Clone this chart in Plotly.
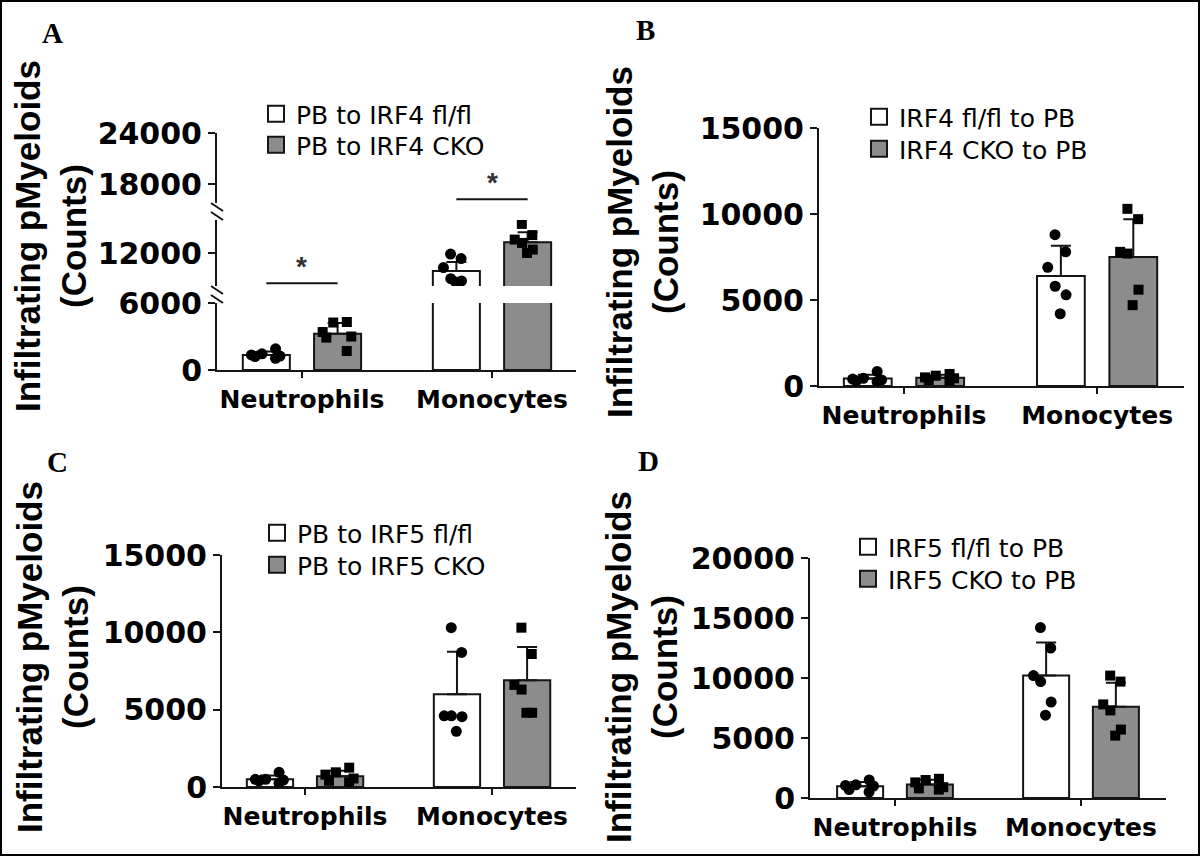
import plotly.graph_objects as go

W, H = 1200, 856

categories = ["Neutrophils", "Monocytes"]

# ---------------- Panel A (broken y axis) ----------------
a_groups = ["PB to IRF4 fl/fl", "PB to IRF4 CKO"]
a_wt_mean = [1350, 10400]
a_wt_sd = [300, 800]
a_ko_mean = [3250, 12950]
a_ko_sd = [950, 900]
a_wt_neutrophils = [1050, 1200, 1250, 1350, 1450, 1900]
a_wt_monocytes = [11500, 11900, 10700, 9700, 9500, 9400]
a_ko_neutrophils = [4300, 4250, 3400, 3000, 2900, 1700]
a_ko_monocytes = [14600, 13600, 13200, 12900, 12300, 12000]
a_sig_y = [9300, 16200]
a_sig_text = ["*", "*"]
a_ticks_low = [0, 6000]
a_ticks_mid = [12000]
a_ticks_up = [18000, 24000]

# ---------------- Panel B ----------------
b_groups = ["IRF4 fl/fl to PB", "IRF4 CKO to PB"]
b_wt_mean = [430, 6400]
b_wt_sd = [230, 1750]
b_ko_mean = [480, 7500]
b_ko_sd = [170, 2200]
b_wt_neutrophils = [250, 300, 350, 400, 450, 850]
b_wt_monocytes = [8800, 7800, 6900, 5800, 5300, 4200]
b_ko_neutrophils = [300, 350, 450, 500, 600, 700]
b_ko_monocytes = [10300, 9700, 7700, 7800, 5600, 4700]
b_ticks = [0, 5000, 10000, 15000]

# ---------------- Panel C ----------------
c_groups = ["PB to IRF5 fl/fl", "PB to IRF5 CKO"]
c_wt_mean = [500, 6000]
c_wt_sd = [250, 2750]
c_ko_mean = [700, 6900]
c_ko_sd = [350, 2150]
c_wt_neutrophils = [250, 450, 500, 500, 400, 950]
c_wt_monocytes = [10300, 8700, 4600, 4600, 4550, 3600]
c_ko_neutrophils = [1250, 950, 800, 550, 400, 300]
c_ko_monocytes = [10300, 8600, 6600, 6300, 4800, 4800]
c_ticks = [0, 5000, 10000, 15000]

# ---------------- Panel D ----------------
d_groups = ["IRF5 fl/fl to PB", "IRF5 CKO to PB"]
d_wt_mean = [980, 10200]
d_wt_sd = [350, 2750]
d_ko_mean = [1130, 7600]
d_ko_sd = [400, 2000]
d_wt_neutrophils = [500, 1100, 1000, 1050, 1500, 700]
d_wt_monocytes = [14200, 12500, 10200, 9700, 8000, 6900]
d_ko_neutrophils = [1500, 1300, 1600, 800, 700, 900]
d_ko_monocytes = [10200, 9700, 7800, 7300, 5700, 5200]
d_ticks = [0, 5000, 10000, 15000, 20000]

y_title = "Infiltrating pMyeloids<br>(Counts)"

# ---------------- styling ----------------
INK = "#151515"
GRAY = "#8c8c8c"
BARGAP, GROUPGAP = 0.25, 0.34
tick_font = dict(family="DejaVu Sans", size=30, color="black", weight="bold")
cat_font = dict(family="DejaVu Sans", size=25, color="black", weight="bold")
leg_font = dict(family="DejaVu Sans", size=25, color="black")
title_font = dict(family="Liberation Sans", size=35, color="black", weight="bold")
label_font = dict(family="Liberation Serif", size=29, color="black", weight="bold")


def xdom(p0, p1):
    return [p0 / W, p1 / W]


def ydom(top, bottom):
    return [1 - bottom / H, 1 - top / H]


panels = [
    dict(groups=a_groups, wt_mean=a_wt_mean, wt_sd=a_wt_sd, ko_mean=a_ko_mean, ko_sd=a_ko_sd,
         wt_pts=(a_wt_neutrophils, a_wt_monocytes), ko_pts=(a_ko_neutrophils, a_ko_monocytes),
         x="x", xpx=(217, 576), xrange=[-0.447, 1.442],
         segs=[("y", (303, 370), [0, 6000], a_ticks_low),
               ("y2", (220, 286), [9050, 14950], a_ticks_mid),
               ("y3", (133, 203), [15765, 24000], a_ticks_up)],
         legends=("legend", "legend5"), leg_x=256, leg_rows=(114, 145),
         label="A", label_pos=(52, 33), title_pos=(51, 236)),
    dict(groups=b_groups, wt_mean=b_wt_mean, wt_sd=b_wt_sd, ko_mean=b_ko_mean, ko_sd=b_ko_sd,
         wt_pts=(b_wt_neutrophils, b_wt_monocytes), ko_pts=(b_ko_neutrophils, b_ko_monocytes),
         x="x2", xpx=(819, 1184), xrange=[-0.44, 1.45],
         segs=[("y4", (128, 386), [0, 15000], b_ticks)],
         legends=("legend2", "legend6"), leg_x=859, leg_rows=(117, 149),
         label="B", label_pos=(645, 30), title_pos=(643, 242)),
    dict(groups=c_groups, wt_mean=c_wt_mean, wt_sd=c_wt_sd, ko_mean=c_ko_mean, ko_sd=c_ko_sd,
         wt_pts=(c_wt_neutrophils, c_wt_monocytes), ko_pts=(c_ko_neutrophils, c_ko_monocytes),
         x="x3", xpx=(222, 576), xrange=[-0.444, 1.449],
         segs=[("y5", (555, 787), [0, 15000], c_ticks)],
         legends=("legend3", "legend7"), leg_x=257, leg_rows=(533, 565),
         label="C", label_pos=(57, 462), title_pos=(52, 657)),
    dict(groups=d_groups, wt_mean=d_wt_mean, wt_sd=d_wt_sd, ko_mean=d_ko_mean, ko_sd=d_ko_sd,
         wt_pts=(d_wt_neutrophils, d_wt_monocytes), ko_pts=(d_ko_neutrophils, d_ko_monocytes),
         x="x4", xpx=(810, 1166), xrange=[-0.457, 1.457],
         segs=[("y6", (558, 798), [0, 20000], d_ticks)],
         legends=("legend4", "legend8"), leg_x=848, leg_rows=(547, 579),
         label="D", label_pos=(648, 461), title_pos=(641, 667)),
]


def axkey(aid):
    return aid[0] + "axis" + aid[1:]


fig = go.Figure()
layout = {}
annotations = []
shapes = []

for p in panels:
    pg = p["label"]
    base_y = p["segs"][0][0]
    layout[axkey(p["x"])] = dict(
        domain=xdom(*p["xpx"]), range=p["xrange"], anchor=base_y, type="category",
        showline=True, linecolor=INK, linewidth=2, ticks="outside", ticklen=6, tickwidth=2,
        tickcolor=INK, tickfont=cat_font, showgrid=False, zeroline=False, fixedrange=True,
        automargin=False)
    for si, (yid, ypx, yrng, ytk) in enumerate(p["segs"]):
        layout[axkey(yid)] = dict(
            domain=ydom(*ypx), range=yrng, anchor=p["x"], tickvals=ytk, tickformat="d",
            showline=True, linecolor=INK, linewidth=2, ticks="outside", ticklen=7, tickwidth=2,
            tickcolor=INK, tickfont=tick_font, showgrid=False, zeroline=False, fixedrange=True,
            automargin=False)
        for gi, (mean, sd, fill, og) in enumerate([
                (p["wt_mean"], p["wt_sd"], "white", "wt"),
                (p["ko_mean"], p["ko_sd"], GRAY, "ko")]):
            fig.add_trace(go.Bar(
                x=categories, y=mean, name=p["groups"][gi], xaxis=p["x"], yaxis=yid,
                marker=dict(color=fill, line=dict(color=INK, width=2)),
                error_y=dict(type="data", array=sd, arrayminus=[0] * len(sd), symmetric=False,
                             color=INK, thickness=2, width=10),
                offsetgroup=og, alignmentgroup=pg, showlegend=False, hoverinfo="skip"))
        for gi, (pts, sym, og) in enumerate([(p["wt_pts"], "circle", "wt"),
                                              (p["ko_pts"], "square", "ko")]):
            xs = []
            ys = []
            for cat, vals in zip(categories, pts):
                xs += [cat] * len(vals)
                ys += list(vals)
            fig.add_trace(go.Box(
                x=xs, y=ys, xaxis=p["x"], yaxis=yid, boxpoints="all", jitter=0.75, pointpos=0,
                fillcolor="rgba(0,0,0,0)", line=dict(color="rgba(0,0,0,0)", width=0),
                marker=dict(symbol=sym, size=11 if sym == "circle" else 10, color="black",
                            line=dict(width=0)),
                offsetgroup=og, alignmentgroup=pg, showlegend=False, hoverinfo="skip"))

    # legend entries (one legend per row so the row spacing can follow the figure)
    for gi, (fill, lid, ry) in enumerate(zip(["white", GRAY], p["legends"], p["leg_rows"])):
        fig.add_trace(go.Scatter(
            x=[None], y=[None], mode="markers", name=p["groups"][gi], xaxis=p["x"], yaxis=base_y,
            marker=dict(symbol="square", size=16, color=fill, line=dict(color=INK, width=2)),
            legend=lid, showlegend=True, hoverinfo="skip"))
        layout[lid] = dict(x=p["leg_x"] / W, y=1 - ry / H, xanchor="left", yanchor="middle",
                           font=leg_font, bgcolor="rgba(0,0,0,0)", borderwidth=0,
                           itemsizing="trace", itemclick=False, itemdoubleclick=False)

    lbx, lby = p["label_pos"]
    annotations.append(dict(text=p["label"], x=lbx / W, y=1 - lby / H, xref="paper", yref="paper",
                            showarrow=False, font=label_font, xanchor="center", yanchor="middle"))
    tx, ty = p["title_pos"]
    annotations.append(dict(text=y_title, x=tx / W, y=1 - ty / H, xref="paper", yref="paper",
                            showarrow=False, textangle=-90, font=title_font,
                            xanchor="center", yanchor="middle"))

# significance markers for panel A
half = (1 - BARGAP) / 4
for i, (sy, st, yid) in enumerate(zip(a_sig_y, a_sig_text, ["y2", "y3"])):
    shapes.append(dict(type="line", xref="x", yref=yid, x0=i - half, x1=i + half, y0=sy, y1=sy,
                       line=dict(color=INK, width=2)))
    annotations.append(dict(text=st, x=i, y=sy, xref="x", yref=yid, showarrow=False,
                            yshift=17, font=dict(family="Liberation Sans", size=28, color="#333333",
                                                 weight="bold")))

# axis-break marks on panel A
ax_x = panels[0]["xpx"][0]
for yb in [203 + 4, 220 - 4, 286 + 4, 303 - 4]:
    shapes.append(dict(type="line", xref="paper", yref="paper",
                       x0=(ax_x - 6) / W, x1=(ax_x + 6) / W,
                       y0=1 - (yb - 4) / H, y1=1 - (yb + 4) / H,
                       line=dict(color=INK, width=2)))

# outer frame
shapes.append(dict(type="rect", xref="paper", yref="paper", x0=0, x1=1, y0=0, y1=1,
                   line=dict(color="black", width=4)))

fig.update_layout(**layout)
fig.update_layout(
    width=W, height=H, margin=dict(l=0, r=0, t=0, b=0, pad=0, autoexpand=False),
    paper_bgcolor="white", plot_bgcolor="white",
    barmode="group", bargap=BARGAP, bargroupgap=GROUPGAP,
    boxmode="group", boxgap=BARGAP, boxgroupgap=GROUPGAP,
    annotations=annotations, shapes=shapes, showlegend=True,
)

fig.write_html("out.html", config={"displayModeBar": False, "staticPlot": True},
               post_script="document.body.style.margin='0px';document.body.style.overflow='hidden';")
